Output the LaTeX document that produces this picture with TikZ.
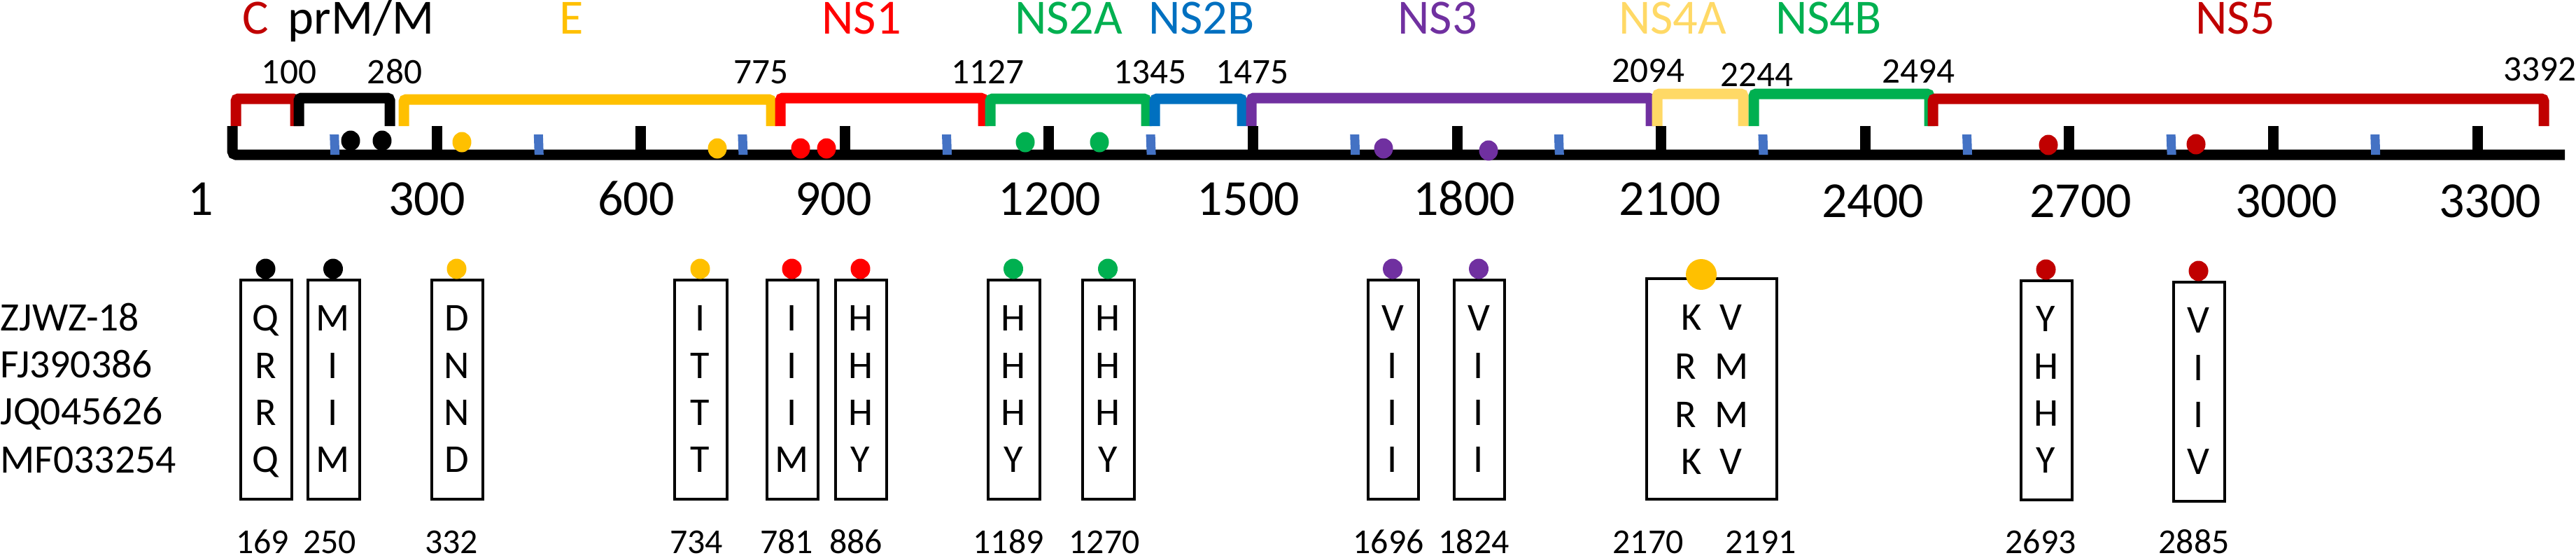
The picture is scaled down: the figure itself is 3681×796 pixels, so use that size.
\documentclass[tikz,border=0pt]{standalone}
\usepackage{fontspec}
\setmainfont{Carlito}
\definecolor{cdred}{HTML}{C00000}
\definecolor{cred}{HTML}{FF0000}
\definecolor{cyel}{HTML}{FFC000}
\definecolor{clyel}{HTML}{FFD966}
\definecolor{cgreen}{HTML}{00B050}
\definecolor{cblue}{HTML}{0070C0}
\definecolor{cpurp}{HTML}{7030A0}
\definecolor{cbtick}{HTML}{4472C4}
\tikzset{
  bracket/.style={line width=1.5mm, rounded corners=0.35mm, line join=miter},
  dom/.style={font=\fontsize{20}{24}\selectfont, anchor=base, inner sep=0pt},
  posl/.style={font=\fontsize{14.6}{17}\selectfont, anchor=base, inner sep=0pt},
  axl/.style={font=\fontsize{20.5}{24}\selectfont, anchor=base, inner sep=0pt},
  strain/.style={font=\fontsize{16.4}{19}\selectfont, anchor=base west, inner sep=0pt},
  aa/.style={font=\fontsize{16}{19}\selectfont, anchor=base, inner sep=0pt},
  numl/.style={font=\fontsize{14.2}{17}\selectfont, anchor=base, inner sep=0pt},
  boxl/.style={draw=black, line width=0.35mm},
}
\begin{document}
\begin{tikzpicture}[x=0.1mm,y=-0.1mm]
\useasboundingbox (0,0) rectangle (3681,796);

% domain names
\node[dom, cdred] (dC) at (365,48) {C};
\node[dom, black] (dprM) at (516,48) {prM/M};
\node[dom, cyel] (dE) at (817,48) {E};
\node[dom, cred] (dNS1) at (1231,48) {NS1};
\node[dom, cgreen] (dNS2A) at (1527,48) {NS2A};
\node[dom, cblue] (dNS2B) at (1717,48) {NS2B};
\node[dom, cpurp] (dNS3) at (2054,48) {NS3};
\node[dom, clyel] (dNS4A) at (2390,48) {NS4A};
\node[dom, cgreen] (dNS4B) at (2613,48) {NS4B};
\node[dom, cdred] (dNS5) at (3194,48) {NS5};

% boundary positions
\node[posl] (p100) at (413,119) {100};
\node[posl] (p280) at (564,119) {280};
\node[posl] (p775) at (1087,119) {775};
\node[posl] (p1127) at (1411,119) {1127};
\node[posl] (p1345) at (1643,119) {1345};
\node[posl] (p1475) at (1789,119) {1475};
\node[posl] (p2094) at (2355,117) {2094};
\node[posl] (p2244) at (2510,123) {2244};
\node[posl] (p2494) at (2741,118) {2494};
\node[posl] (p3392) at (3629,115) {3392};

% domain brackets
\foreach \a/\b/\y/\c in {337/422/141/cdred, 427/557/140/black, 577/1102/142/cyel,
  1115/1405/140/cred, 1415/1638/141/cgreen, 1650/1775/141/cblue, 1788/2359/140/cpurp,
  2368/2491/134/clyel, 2506/2757/134/cgreen, 2762/3635/141/cdred}
  \draw[bracket, \c] (\a,180) -- (\a,\y) -- (\b,\y) -- (\b,180);

% axis
\draw[line width=1.5mm, rounded corners=0.5mm] (332,180) -- (332,221) -- (3665,221);
\foreach \p in {300,600,...,3300}
  \draw[line width=1.5mm] ({332.4+0.972*\p},180) -- ({332.4+0.972*\p},216);
\foreach \p in {150,450,...,3150}
  \fill[cbtick] ({332.4+0.972*\p-7},192) -- ++(13,0) -- ++(1,29) -- ++(-13,0) -- cycle;

% dots on axis
\foreach \x/\y/\c in {501/201/black, 546/201/black, 660/203/cyel, 1025/212/cyel,
  1144/212/cred, 1181/212/cred, 1465/203/cgreen, 1571/203/cgreen,
  1977/212/cpurp, 2127/215/cpurp, 2927/207/cdred, 3138/206/cdred}
  \fill[\c] (\x,\y) ellipse[x radius=1.35mm, y radius=1.45mm];

% axis labels
\foreach \x/\t/\y in {287/1/307, 610/300/307, 909/600/307, 1191/900/307, 1500/1200/307,
  1784/1500/307, 2092/1800/307, 2386/2100/307, 2676/2400/310, 2973/2700/310,
  3267/3000/310, 3558/3300/310}
  \node[axl] (ax\t) at (\x,\y) {\t};

% strain names
\node[strain] (s1) at (0,472) {ZJWZ-18};
\node[strain] (s2) at (0,539) {FJ390386};
\node[strain] (s3) at (0,606) {JQ045626};
\node[strain] (s4) at (0,675) {MF033254};

% single-site boxes
\foreach \nm/\l/\r/\A/\B/\C/\D/\col/\nx/\dy in {
  169/344/417/Q/R/R/Q/black/375/0, 250/440/514/M/I/I/M/black/471/0,
  332/617/690/D/N/N/D/cyel/645/0, 734/964/1039/I/T/T/T/cyel/995/0,
  781/1096/1169/I/I/I/M/cred/1124/0, 886/1194/1267/H/H/H/Y/cred/1223/0,
  1189/1412/1486/H/H/H/Y/cgreen/1441/0, 1270/1547/1621/H/H/H/Y/cgreen/1578/0,
  1696/1955/2027/V/I/I/I/cpurp/1984/0, 1824/2078/2150/V/I/I/I/cpurp/2106/0,
  2693/2888/2961/Y/H/H/Y/cdred/2916/1, 2885/3106/3179/V/I/I/V/cdred/3135/3} {
  \pgfmathsetmacro\cx{(\l+\r)/2-1}
  \draw[boxl] (\l,{400+\dy}) rectangle (\r,{713+\dy});
  \fill[\col] (\cx,{384+\dy}) ellipse[x radius=1.4mm, y radius=1.45mm];
  \node[aa] (a\nm r1) at (\cx,{472+\dy}) {\A};
  \node[aa] (a\nm r2) at (\cx,{540+\dy}) {\B};
  \node[aa] (a\nm r3) at (\cx,{607+\dy}) {\C};
  \node[aa] (a\nm r4) at (\cx,{674+\dy}) {\D};
  \node[numl] (n\nm) at (\nx,790) {\nm};
}

% double-site box
\draw[boxl] (2353,398) rectangle (2539,713);
\fill[cyel] (2431,392) circle[radius=2.2mm];
\node[aa] (w1) at (2446,471) {K\hspace{2.6mm}V};
\node[aa] (w2) at (2446,541) {R\hspace{2.6mm}M};
\node[aa] (w3) at (2446,610) {R\hspace{2.6mm}M};
\node[aa] (w4) at (2446,677) {K\hspace{2.6mm}V};
\node[numl] (n2170) at (2355,790) {2170};
\node[numl] (n2191) at (2516,790) {2191};
\end{tikzpicture}
\end{document}
